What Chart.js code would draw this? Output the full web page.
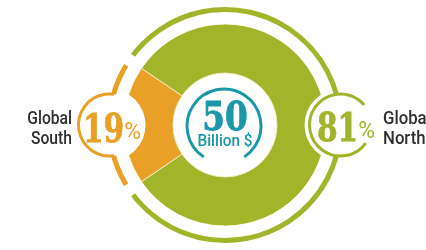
<!DOCTYPE html>
<html>
<head>
<meta charset="utf-8">
<script src="https://cdn.jsdelivr.net/npm/chart.js@4.4.0/dist/chart.umd.min.js"></script>
<style>
  html, body { margin: 0; padding: 0; background: #fff; overflow: hidden; }
  #wrap { position: relative; width: 426px; height: 250px; overflow: hidden; }
  #chart { position: absolute; left: 0; top: 0; }
  .region { position: absolute; top: 108px; font: 500 18px/20px Roboto, sans-serif; color: #2f2f2f; white-space: nowrap; transform: scaleX(.87); }
  .badge { position: absolute; white-space: nowrap; }
  .num { display: inline-block; font: bold 39px/31px "DejaVu Serif", serif; -webkit-text-stroke: .8px currentColor; transform: scaleX(.76); transform-origin: left center; margin-right: -13px; }
  .pct { font: 23px/31px Roboto, sans-serif; vertical-align: 3px; }
  #total { position: absolute; left: 175px; width: 100px; top: 101px; text-align: center; color: #1a98a8; }
  #total .big { font: bold 39px/31px "DejaVu Serif", serif; -webkit-text-stroke: .8px currentColor; transform: scaleX(.84); }
  #total .unit { font: 500 17px/20px Roboto, sans-serif; margin-top: -2px; transform: scaleX(.9); }
</style>
</head>
<body>
<div id="wrap">
  <canvas id="chart" width="426" height="250"></canvas>
  <div class="region" id="southName" style="left:0; width:72px; text-align:right; transform-origin:right center"></div>
  <div class="region" id="northName" style="left:383px; transform-origin:left center; transform:scaleX(.93)"></div>
  <div class="badge" id="southBadge" style="left:83px; top:113px"></div>
  <div class="badge" id="northBadge" style="left:317px; top:112px"></div>
  <div id="total"><div class="big"></div><div class="unit"></div></div>
</div>
<script>
const regions = ['Global South', 'Global North'];
const shares = [19, 81];
const totalValue = 50;
const totalUnit = 'Billion $';

const orange = '#e8a026';
const green = '#a2b52a';
const teal = '#1a98a8';
const colors = [orange, green];

// outline of each badge circle: [start, end] angles, gap faces the text / doughnut
const badgeOutline = [
    [Math.PI / 2 - 0.15, Math.PI * 1.5 + 0.15],
    [0.62, Math.PI * 2 - 0.7]
];

function badgeCentres(chart) {
    return chart.getDatasetMeta(0).data.map(el => {
        const mid = (el.startAngle + el.endAngle) / 2;
        const r = (el.innerRadius + el.outerRadius) / 2;
        return { x: el.x + Math.cos(mid) * r, y: el.y + Math.sin(mid) * r };
    });
}

const labelRings = {
    id: 'labelRings',
    afterDatasetDraw(chart, args) {
        if (args.index !== 2) return;
        const ctx = chart.ctx;
        ctx.save();
        ctx.fillStyle = '#fff';
        badgeCentres(chart).forEach(p => {
            ctx.beginPath();
            ctx.arc(p.x, p.y, 36, 0, Math.PI * 2);
            ctx.fill();
        });
        ctx.restore();
    },
    afterDatasetsDraw(chart) {
        const ctx = chart.ctx;
        ctx.save();
        badgeCentres(chart).forEach((p, i) => {
            ctx.fillStyle = '#fff';
            ctx.beginPath();
            ctx.arc(p.x, p.y, 31, 0, Math.PI * 2);
            ctx.fill();
            ctx.strokeStyle = colors[i];
            ctx.lineWidth = 3;
            ctx.beginPath();
            ctx.arc(p.x, p.y, 31, badgeOutline[i][0], badgeOutline[i][1]);
            ctx.stroke();
        });
        const c = chart.getDatasetMeta(2).data[0];
        ctx.strokeStyle = teal;
        ctx.lineWidth = 3;
        ctx.beginPath();
        ctx.arc(c.x - 1, c.y + 1, 37, Math.PI / 2 + 0.58, Math.PI / 2 - 0.58 + Math.PI * 2);
        ctx.stroke();
        ctx.restore();
    }
};

const sum = shares.reduce((a, b) => a + b, 0);

new Chart(document.getElementById('chart'), {
    type: 'doughnut',
    data: {
        labels: regions,
        datasets: [
            { label: 'ring', data: shares, backgroundColor: colors, borderColor: '#fff', borderWidth: 12, weight: 17 },
            { label: 'gap', data: shares, backgroundColor: 'rgba(0,0,0,0)', borderWidth: 0, weight: 6 },
            { label: 'share', data: shares, backgroundColor: colors, borderColor: '#f3ebc0', borderWidth: 1, weight: 49 }
        ]
    },
    options: {
        responsive: false,
        animation: false,
        events: [],
        radius: 124,
        cutout: '41.9%',
        rotation: 270 - shares[0] / sum * 180,
        layout: { padding: { left: 24 } },
        plugins: { legend: { display: false }, tooltip: { enabled: false } }
    },
    plugins: [labelRings]
});

const [southA, southB] = regions[0].split(' ');
const [northA, northB] = regions[1].split(' ');
document.getElementById('southName').innerHTML = southA + '<br>' + southB;
document.getElementById('northName').innerHTML = northA + '<br>' + northB;
['southBadge', 'northBadge'].forEach((id, i) => {
    const el = document.getElementById(id);
    el.style.color = colors[i];
    el.innerHTML = '<span class="num">' + shares[i] + '</span><span class="pct">%</span>';
});
document.querySelector('#total .big').textContent = totalValue;
document.querySelector('#total .unit').textContent = totalUnit;
</script>
</body>
</html>
